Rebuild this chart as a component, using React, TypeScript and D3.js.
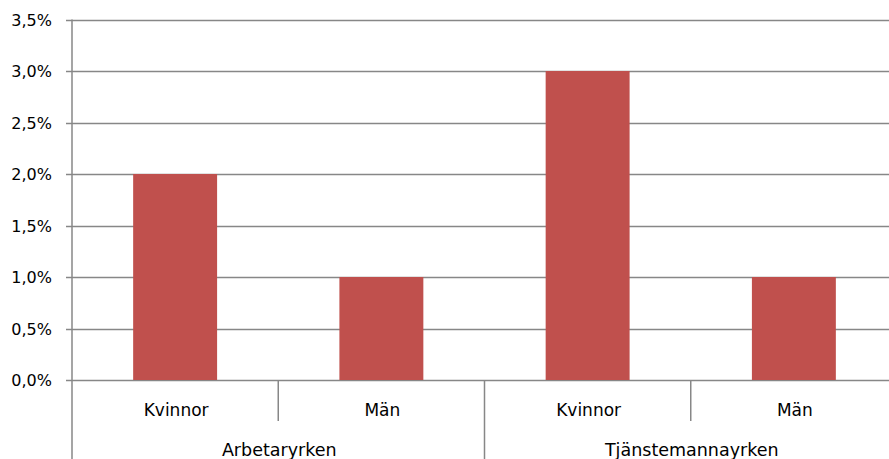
import React from "react";
import * as d3 from "d3";

const categories = ["Kvinnor", "Män", "Kvinnor", "Män"];
const groups = ["Arbetaryrken", "Tjänstemannayrken"];
const values = [0.02, 0.01, 0.03, 0.01];
const yTicks = [0, 0.005, 0.01, 0.015, 0.02, 0.025, 0.03, 0.035];

const W = 889;
const H = 459;
const left = 72;
const right = 897;
const top = 19.5;
const bottom = 380;

export default function App() {
  const x = d3
    .scaleBand<number>()
    .domain(d3.range(categories.length))
    .range([left, right])
    .paddingInner(0.593)
    .paddingOuter(0.2965);
  const step = (right - left) / categories.length;
  const y = d3.scaleLinear().domain([0, 0.035]).range([bottom, top]);
  const fmt = (v: number) => (v * 100).toFixed(1).replace(".", ",") + "%";
  const font = "'DejaVu Sans', sans-serif";
  const grid = "#878787";

  return (
    <svg
      width={W}
      height={H}
      style={{ position: "absolute", left: 0, top: 0, display: "block" }}
    >
      <rect width={W} height={H} fill="#fff" />
      {yTicks.map((t) => (
        <g key={t}>
          <line
            x1={left - 6}
            x2={W}
            y1={Math.round(y(t)) + 0.5}
            y2={Math.round(y(t)) + 0.5}
            stroke={grid}
            strokeWidth={1.5}
          />
          <text
            x={52}
            y={y(t) + 6}
            textAnchor="end"
            fontFamily={font}
            fontSize={16}
            fill="#000"
          >
            {fmt(t)}
          </text>
        </g>
      ))}
      {values.map((v, i) => (
        <rect
          key={i}
          x={x(i)}
          y={y(v)}
          width={x.bandwidth()}
          height={y(0) - y(v)}
          fill="#C0504D"
        />
      ))}
      <line x1={left} x2={left} y1={top} y2={H} stroke={grid} strokeWidth={1.5} />
      {categories.map((c, i) => {
        const sx = left + step * (i + 1);
        const isGroup = (i + 1) % 2 === 0;
        return (
          <g key={i}>
            {i < categories.length - 1 && (
              <line
                x1={sx}
                x2={sx}
                y1={bottom}
                y2={isGroup ? H : 421}
                stroke={grid}
                strokeWidth={1.5}
              />
            )}
            <text
              x={(x(i) as number) + x.bandwidth() / 2 + 1}
              y={416}
              textAnchor="middle"
              fontFamily={font}
              fontSize={17}
              fill="#000"
            >
              {c}
            </text>
          </g>
        );
      })}
      {groups.map((g, gi) => (
        <text
          key={g}
          x={left + step * (gi * 2 + 1) + 1}
          y={456}
          textAnchor="middle"
          fontFamily={font}
          fontSize={17.5}
          fill="#000"
        >
          {g}
        </text>
      ))}
    </svg>
  );
}
